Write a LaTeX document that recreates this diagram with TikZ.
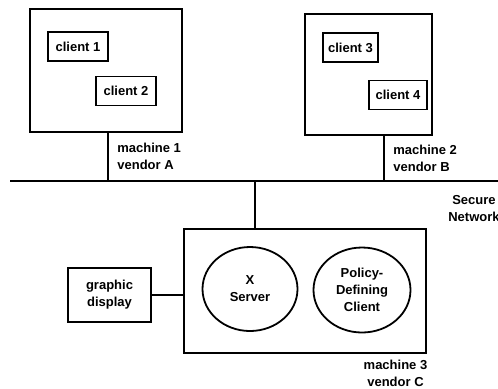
\documentclass[tikz,border=0pt]{standalone}
\usepackage{fontspec}
\setmainfont{Liberation Sans}
\usepackage{tikz}
\usetikzlibrary{shapes.geometric}

\tikzset{
  machbox/.style={draw, line width=0.9pt, inner sep=0pt},
  clientbox/.style={draw, line width=0.9pt, inner sep=0pt, minimum height=14.5pt},
  procell/.style={draw, ellipse, line width=0.9pt, inner sep=0pt, align=center},
  wire/.style={line width=0.75pt},
  lbl/.style={inner sep=0pt}
}

\begin{document}
\begin{tikzpicture}[x=0.5pt, y=-0.5pt, font=\bfseries\fontsize{6.5}{8.5}\selectfont]
  \useasboundingbox (0,0) rectangle (498,388);
  % machines on the network
  \node[machbox, minimum width=76pt, minimum height=61.5pt] (mach1) at (106,70.5) {};
  \node[machbox, minimum width=63.5pt, minimum height=60.5pt] (mach2) at (368.5,74.5) {};
  \node[machbox, minimum width=121pt, minimum height=62pt] (mach3) at (305,291) {};
  % clients: (name, x, y, width, text)
  \foreach \nm/\x/\y/\w/\tx in {cl1/78/46.5/30/client 1, cl2/126/91/30/client 2,
                                cl3/350.5/47.5/27.5/client 3, cl4/398/95/29/client 4} {
    \node[clientbox, minimum width=\w pt] (\nm) at (\x,\y) {\tx};
  }
  % server side
  \node[procell, minimum width=47.5pt, minimum height=42pt] (xsrv) at (250,289) {X\\Server};
  \node[procell, minimum width=48.5pt, minimum height=42.5pt] (pdc) at (362,290) {Policy-\\Defining\\Client};
  \node[machbox, minimum width=41.5pt, minimum height=27pt, align=center] (disp) at (109.5,295) {graphic\\display};
  % network
  \coordinate (netL) at (10,181);
  \coordinate (netR) at (498,181);
  \coordinate (tapA) at (108,181);
  \coordinate (tapB) at (384,181);
  \coordinate (tapC) at (255,181);
  \draw[wire] (netL) -- (netR);
  \draw[wire] (tapA |- mach1.south) -- (tapA);
  \draw[wire] (tapB |- mach2.south) -- (tapB);
  \draw[wire] (tapC) -- (tapC |- mach3.north);
  \draw[wire] (disp.east) -- (disp.east -| mach3.west);
  % labels
  \node[lbl, anchor=west, align=left] (lab1) at (117,156) {machine 1\\vendor A};
  \node[lbl, anchor=west, align=left] (lab2) at (393,158.5) {machine 2\\vendor B};
  \node[lbl, align=center] (lab3) at (395.5,373) {machine 3\\vendor C};
  \node[lbl, align=center] (labnet) at (474,209) {Secure\\Network};
\end{tikzpicture}
\end{document}
